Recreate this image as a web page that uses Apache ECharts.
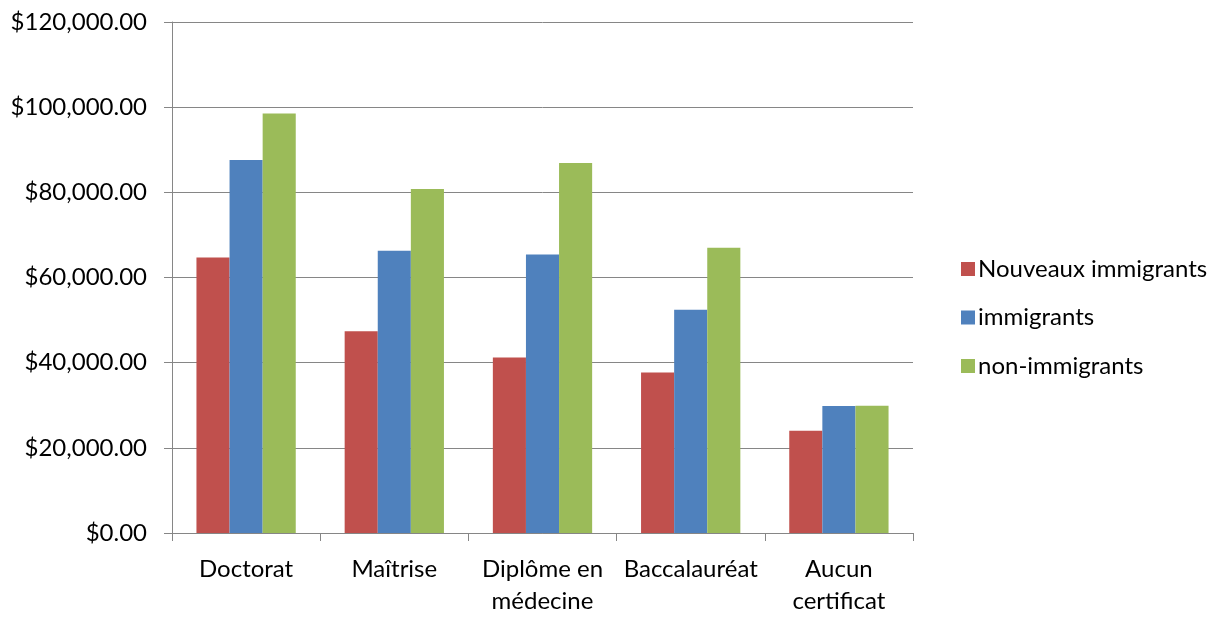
<!DOCTYPE html>
<html>
<head>
<meta charset="utf-8">
<script src="https://cdn.jsdelivr.net/npm/echarts@6/dist/echarts.min.js"></script>
<style>html,body{margin:0;padding:0;background:#fff;}#c{width:1221px;height:617px;}</style>
</head>
<body>
<div id="c"></div>
<script>
const categories = ['Doctorat', 'Maîtrise', 'Diplôme en\nmédecine', 'Baccalauréat', 'Aucun\ncertificat'];
const seriesNames = ['Nouveaux immigrants', 'immigrants', 'non-immigrants'];
const nouveauxImmigrants = [64700, 47400, 41200, 37700, 24000];
const immigrants = [87600, 66300, 65400, 52400, 29800];
const nonImmigrants = [98500, 80800, 86900, 67000, 29900];
const colors = ['#C0504D', '#4F81BD', '#9BBB59'];
const FONT = 'Lato';

const chart = echarts.init(document.getElementById('c'), null, {renderer: 'canvas'});
const dataSets = [nouveauxImmigrants, immigrants, nonImmigrants];
chart.setOption({
  animation: false,
  backgroundColor: '#fff',
  textStyle: {fontFamily: FONT},
  grid: {left: 172, right: 308, top: 22, bottom: 79, containLabel: false},
  legend: {
    orient: 'vertical', left: 956, top: 252,
    itemWidth: 14, itemHeight: 14, itemGap: 24.5,
    icon: 'rect',
    textStyle: {fontFamily: FONT, fontSize: 24, color: '#000', lineHeight: 22, padding: [0,0,0,-2]},
    data: seriesNames
  },
  xAxis: {
    type: 'category', data: categories,
    axisLine: {lineStyle: {color: '#868686', width: 1}},
    axisTick: {show: true, length: 8, alignWithLabel: false, lineStyle: {color: '#868686'}},
    axisLabel: {fontFamily: FONT, fontSize: 24, color: '#000', lineHeight: 32, margin: 20, interval: 0}
  },
  yAxis: {
    type: 'value', min: 0, max: 120000, interval: 20000,
    axisLine: {show: true, lineStyle: {color: '#868686', width: 1}},
    axisTick: {show: true, length: 8, lineStyle: {color: '#868686'}},
    splitLine: {lineStyle: {color: '#868686', width: 1}},
    axisLabel: {
      fontFamily: FONT, fontSize: 24, color: '#000', margin: 25,
      formatter: v => '$' + v.toLocaleString('en-US', {minimumFractionDigits: 2, maximumFractionDigits: 2})
    }
  },
  series: seriesNames.map((n, i) => ({
    name: n, type: 'bar', data: dataSets[i],
    barGap: '0%', barCategoryGap: '33%',
    itemStyle: {color: colors[i]}
  }))
});
</script>
</body>
</html>
